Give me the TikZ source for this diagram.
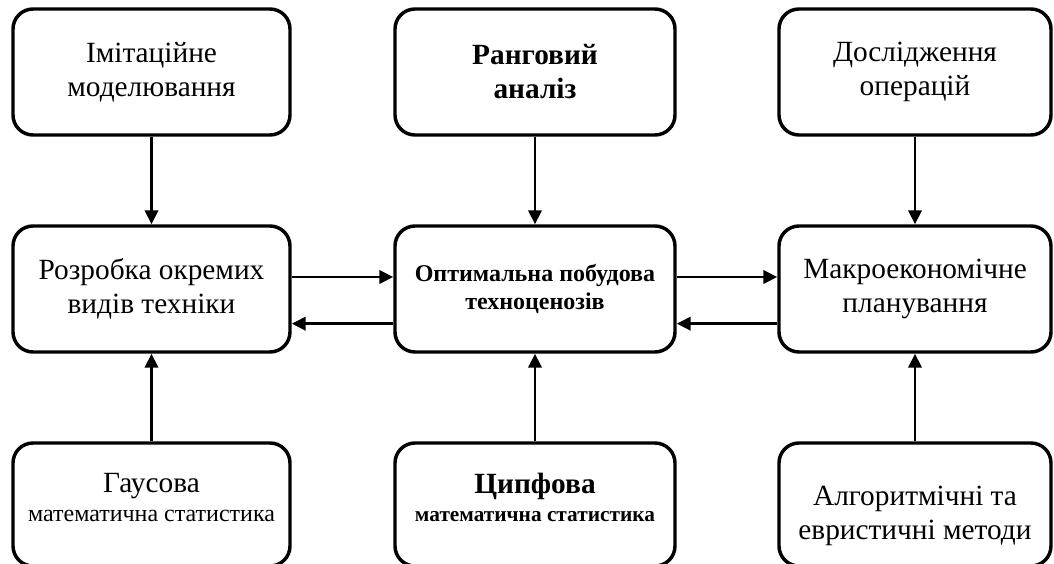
\documentclass[tikz,border=0pt]{standalone}
\usepackage{fontspec}
\setmainfont{Liberation Serif}
\usetikzlibrary{shapes, positioning, arrows.meta}

\begin{document}
\begin{tikzpicture}[x=0.75pt, y=-0.75pt,
    box/.style={rectangle, draw=black, line width=2.6pt, rounded corners=15pt, fill=none,
        text centered, align=center, text=black, inner sep=0pt, minimum height=94.5pt},
    left/.style={box, minimum width=207.75pt},
    mid/.style={box, minimum width=210pt},
    right/.style={box, minimum width=204pt},
    big/.style={font=\fontsize{22}{25.5}\selectfont},
    small/.style={font=\fontsize{18}{21}\selectfont\bfseries},
    link/.style={line width=2.2pt, -{Triangle[length=10.5pt, width=10pt]}}
]
\useasboundingbox (0,0) rectangle (1054,564);

% top row
\node (T01) [left, big] at (151.5,72) {Імітаційне\\моделювання};
\node (T02) [mid, big] at (535,72) {\textbf{Ранговий}\\\textbf{аналіз}};
\node (T03) [right, big] at (915,72) {Дослідження\\операцій};

% middle row
\node (M01) [left, big] at (151.5,289) {Розробка окремих\\видів техніки};
\node (M02) [mid, small] at (535,289) {Оптимальна побудова\\техноценозів};
\node (M03) [right, big] at (915,289) {Макроекономічне\\планування};

% bottom row
\node (B01) [left, minimum height=92.25pt, font=\fontsize{18}{22}\selectfont] at (151.5,504.5)
    {{\fontsize{22}{22}\selectfont Гаусова}\\математична статистика\rule[-11pt]{0pt}{1pt}};
\node (B02) [mid, minimum height=92.25pt, font=\fontsize{16}{21}\selectfont\bfseries] at (535,504.5)
    {{\fontsize{22}{22}\selectfont Ципфова}\\математична статистика\rule[-11pt]{0pt}{1pt}};
\node (B03) [right, big, minimum height=92.25pt] at (915,504.5)
    {\rule{0pt}{32pt}Алгоритмічні та\\евристичні методи};

\draw[link] (T01) -- (M01);
\draw[link] (T02) -- (M02);
\draw[link] (T03) -- (M03);
\draw[link] (B01) -- (M01);
\draw[link] (B02) -- (M02);
\draw[link] (B03) -- (M03);

\draw[link] ([yshift=9pt]M01.east) -- ([yshift=9pt]M02.west);
\draw[link] ([yshift=-26pt]M02.west) -- ([yshift=-26pt]M01.east);
\draw[link] ([yshift=9pt]M02.east) -- ([yshift=9pt]M03.west);
\draw[link] ([yshift=-26pt]M03.west) -- ([yshift=-26pt]M02.east);
\end{tikzpicture}
\end{document}
